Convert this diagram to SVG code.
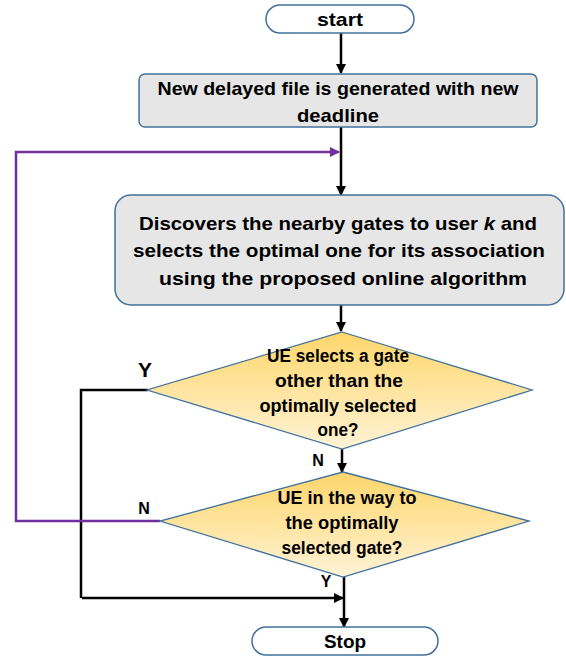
<svg xmlns="http://www.w3.org/2000/svg" width="566" height="657" viewBox="0 0 566 657">
  <defs>
    <linearGradient id="decisionFill" x1="0" y1="0" x2="0" y2="1">
      <stop offset="0" stop-color="#FFD66B"/>
      <stop offset="1" stop-color="#FFF3D6"/>
    </linearGradient>
    <marker id="arrowBlack" viewBox="0 0 10 10" refX="9" refY="5" markerWidth="4" markerHeight="4" orient="auto" markerUnits="strokeWidth">
      <path d="M0,0 L10,5 L0,10 z" fill="#000"/>
    </marker>
    <marker id="arrowPurple" viewBox="0 0 10 10" refX="9" refY="5" markerWidth="4" markerHeight="4" orient="auto" markerUnits="strokeWidth">
      <path d="M0,0 L10,5 L0,10 z" fill="#7030A0"/>
    </marker>
  </defs>
  <style>
    text { font-family: "Liberation Sans", Arial, sans-serif; font-weight: bold; fill: #000; text-anchor: middle; dominant-baseline: central; }
    .terminal { fill: #fff; stroke: #41719C; stroke-width: 1.5; }
    .process { fill: #E6E6E6; stroke: #41719C; stroke-width: 1.5; }
    .decision { fill: url(#decisionFill); stroke: #41719C; stroke-width: 1.3; }
    .flow { fill: none; stroke: #000; stroke-width: 2.5; }
    .loop { fill: none; stroke: #7030A0; stroke-width: 2.5; }
    .t19 { font-size: 19px; }
    .t18 { font-size: 18px; }
    .lbl { font-size: 16px; }
  </style>

  <g id="connectors">
    <line class="flow" x1="341" y1="33" x2="341" y2="73" marker-end="url(#arrowBlack)"/>
    <line class="flow" x1="341" y1="127" x2="341" y2="195" marker-end="url(#arrowBlack)"/>
    <line class="flow" x1="341" y1="305" x2="341" y2="331" marker-end="url(#arrowBlack)"/>
    <line class="flow" x1="342" y1="449" x2="342" y2="472" marker-end="url(#arrowBlack)"/>
    <line class="flow" x1="344" y1="577" x2="344" y2="627" marker-end="url(#arrowBlack)"/>
    <polyline class="flow" points="148,390 81,390 81,598"/>
    <line class="flow" x1="82" y1="598" x2="343" y2="598" marker-end="url(#arrowBlack)"/>
    <polyline class="loop" points="160,521 16,521 16,152 339,152" marker-end="url(#arrowPurple)"/>
    <text x="145" y="369" style="font-size:21px">Y</text>
    <text class="lbl" x="318" y="460">N</text>
    <text class="lbl" x="144" y="508">N</text>
    <text class="lbl" x="326" y="581">Y</text>
  </g>

  <g id="start">
    <rect class="terminal" x="266" y="5" width="148" height="28" rx="14"/>
    <text class="t19" x="340" y="19" textLength="46" lengthAdjust="spacingAndGlyphs">start</text>
  </g>

  <g id="new-file">
    <rect class="process" x="139" y="74" width="398" height="53" rx="6"/>
    <text class="t19" x="338" y="88" textLength="361" lengthAdjust="spacingAndGlyphs">New delayed file is generated with new</text>
    <text class="t19" x="338" y="115" textLength="82" lengthAdjust="spacingAndGlyphs">deadline</text>
  </g>

  <g id="discover">
    <rect class="process" x="115" y="195" width="449" height="110" rx="16"/>
    <text class="t19" x="338" y="223" textLength="398" lengthAdjust="spacingAndGlyphs">Discovers the nearby gates to user <tspan font-style="italic">k</tspan> and</text>
    <text class="t19" x="339" y="250" textLength="412" lengthAdjust="spacingAndGlyphs">selects the optimal one for its association</text>
    <text class="t19" x="343" y="278" textLength="368" lengthAdjust="spacingAndGlyphs">using the proposed online algorithm</text>
  </g>

  <g id="other-gate">
    <polygon class="decision" points="342,332 532,390 342,449 147,390"/>
    <text class="t18" x="338" y="356" textLength="142" lengthAdjust="spacingAndGlyphs">UE selects a gate</text>
    <text class="t18" x="339" y="381" textLength="128" lengthAdjust="spacingAndGlyphs">other than the</text>
    <text class="t18" x="338" y="406" textLength="157" lengthAdjust="spacingAndGlyphs">optimally selected</text>
    <text class="t18" x="338" y="430" textLength="41" lengthAdjust="spacingAndGlyphs">one?</text>
  </g>

  <g id="on-way">
    <polygon class="decision" points="343,472 529,521 343,577 160,521"/>
    <text class="t18" x="347" y="498" textLength="139" lengthAdjust="spacingAndGlyphs">UE in the way to</text>
    <text class="t18" x="342" y="523" textLength="113" lengthAdjust="spacingAndGlyphs">the optimally</text>
    <text class="t18" x="342" y="548" textLength="121" lengthAdjust="spacingAndGlyphs">selected gate?</text>
  </g>

  <g id="stop">
    <rect class="terminal" x="252" y="627" width="186" height="28" rx="14"/>
    <text class="t19" x="345" y="641" textLength="42" lengthAdjust="spacingAndGlyphs">Stop</text>
  </g>
</svg>
